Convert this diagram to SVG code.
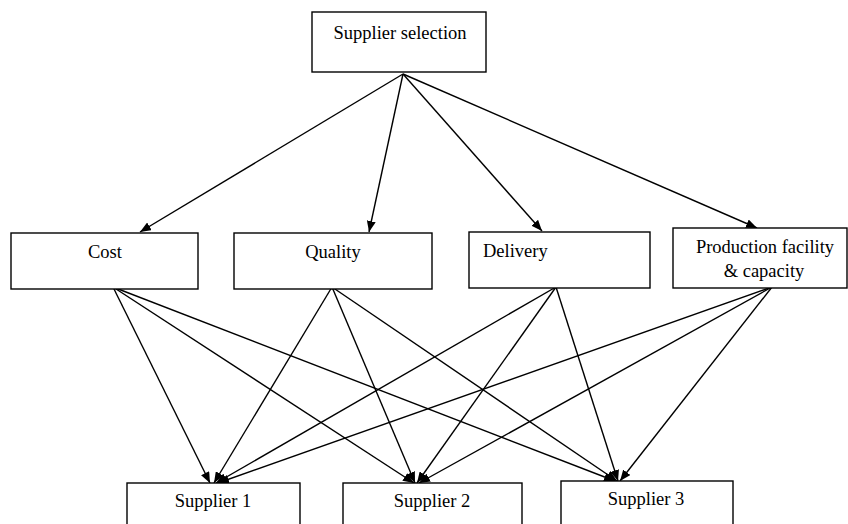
<svg xmlns="http://www.w3.org/2000/svg" width="848" height="524" viewBox="0 0 848 524">
<defs>
<marker id="ah" markerWidth="11" markerHeight="9" refX="11" refY="4.5" orient="auto" markerUnits="userSpaceOnUse">
<path d="M0,0 L11,4.5 L0,9 z" fill="#000"/>
</marker>
<style>
.box{fill:#fff;stroke:#000;stroke-width:1.4}
.lbl{font-size:18.5px;fill:#000}
.c{text-anchor:middle}
.edge{stroke:#000;stroke-width:1.4;fill:none;marker-end:url(#ah)}
</style>
</defs>
<rect width="848" height="524" fill="#fff"/>
<g id="connectors">
<line class="edge" x1="403" y1="74" x2="140" y2="232"/>
<line class="edge" x1="403" y1="74" x2="369" y2="232"/>
<line class="edge" x1="403" y1="74" x2="542" y2="231"/>
<line class="edge" x1="403" y1="74" x2="757" y2="228"/>
<line class="edge" x1="113" y1="287" x2="210" y2="483"/>
<line class="edge" x1="113" y1="287" x2="414" y2="483"/>
<line class="edge" x1="113" y1="287" x2="615" y2="481"/>
<line class="edge" x1="332" y1="287" x2="214" y2="483"/>
<line class="edge" x1="332" y1="287" x2="415" y2="483"/>
<line class="edge" x1="332" y1="287" x2="617" y2="481"/>
<line class="edge" x1="556" y1="287" x2="216" y2="483"/>
<line class="edge" x1="556" y1="287" x2="417" y2="483"/>
<line class="edge" x1="556" y1="287" x2="618" y2="481"/>
<line class="edge" x1="772" y1="287" x2="218" y2="483"/>
<line class="edge" x1="772" y1="287" x2="419" y2="483"/>
<line class="edge" x1="772" y1="287" x2="620" y2="481"/>
</g>
<g font-family="'Liberation Serif', 'Times New Roman', 'DejaVu Serif', serif">
<g id="supplier-selection">
<rect class="box" x="312" y="12" width="174" height="60"/>
<text class="lbl c" x="400" y="39">Supplier selection</text>
</g>
<g id="cost">
<rect class="box" x="11" y="233" width="187" height="56"/>
<text class="lbl c" x="105" y="258">Cost</text>
</g>
<g id="quality">
<rect class="box" x="234" y="233" width="198" height="56"/>
<text class="lbl c" x="333" y="258">Quality</text>
</g>
<g id="delivery">
<rect class="box" x="469" y="232" width="181" height="56"/>
<text class="lbl" x="483" y="257">Delivery</text>
</g>
<g id="production">
<rect class="box" x="673" y="228" width="174" height="60"/>
<text class="lbl c" x="765" y="253">Production facility</text>
<text class="lbl c" x="764" y="277">&amp; capacity</text>
</g>
<g id="supplier1">
<rect class="box" x="127" y="483" width="173" height="50"/>
<text class="lbl c" x="213" y="507">Supplier 1</text>
</g>
<g id="supplier2">
<rect class="box" x="343" y="483" width="179" height="50"/>
<text class="lbl c" x="432" y="507">Supplier 2</text>
</g>
<g id="supplier3">
<rect class="box" x="561" y="481" width="172" height="50"/>
<text class="lbl c" x="646" y="505">Supplier 3</text>
</g>
</g>
</svg>
